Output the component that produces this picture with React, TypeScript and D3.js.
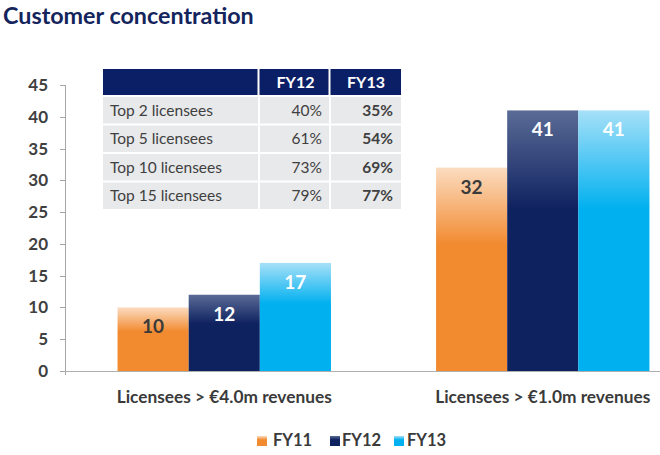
import React from "react";
import * as d3 from "d3";

const categories = ["Licensees > €4.0m revenues", "Licensees > €1.0m revenues"];
const seriesNames = ["FY11", "FY12", "FY13"];
const fy11 = [10, 32];
const fy12 = [12, 41];
const fy13 = [17, 41];
const yTicks = [0, 5, 10, 15, 20, 25, 30, 35, 40, 45];

const tableRows = ["Top 2 licensees", "Top 5 licensees", "Top 10 licensees", "Top 15 licensees"];
const tableHeaders = ["FY12", "FY13"];
const tableFY12 = ["40%", "61%", "73%", "79%"];
const tableFY13 = ["35%", "54%", "69%", "77%"];

const W = 660;
const H = 455;
const FONT = "Lato, 'Open Sans', sans-serif";

const colors = [
  { solid: "#f28a30", light: "#fbdcc0", text: "#3a3a3a" },
  { solid: "#0f2260", light: "#5a6b96", text: "#ffffff" },
  { solid: "#00b0ef", light: "#a6e0f8", text: "#ffffff" },
];

export default function App() {
  const series = [fy11, fy12, fy13];
  const y = d3.scaleLinear().domain([0, 45]).range([371, 85]);
  const x0 = d3
    .scaleBand<string>()
    .domain(categories)
    .range([65, 702])
    .paddingInner(0.33)
    .paddingOuter(0.165);
  const x1 = d3.scaleBand<string>().domain(seriesNames).range([0, x0.bandwidth()]);

  const tX = [103, 260, 331, 401];
  const headerY = 69;
  const headerH = 26;
  const rowY = d3.scaleBand<string>().domain(tableRows).range([97, 209]).paddingInner(0.07);

  const legendSq = [257, 330, 394];
  const legendTx = [273, 342, 407];

  return (
    <svg width={W} height={H} style={{ position: "absolute", left: 0, top: 0 }} fontFamily={FONT}>
      <defs>
        {colors.map((c, i) => (
          <linearGradient key={i} id={`g${i}`} x1="0" y1="0" x2="0" y2="1">
            <stop offset="0%" stopColor={c.light} />
            <stop offset="38%" stopColor={c.solid} />
            <stop offset="100%" stopColor={c.solid} />
          </linearGradient>
        ))}
      </defs>
      <rect width={W} height={H} fill="#fff" />
      <text x={3} y={24} fontSize={23.3} fontWeight={700} fill="#14245c">
        Customer concentration
      </text>

      {/* y axis */}
      <line x1={65.5} x2={65.5} y1={y(45)} y2={375} stroke="#a6a6a6" />
      {yTicks.map((t) => (
        <g key={t}>
          <line x1={60} x2={65} y1={Math.round(y(t)) + 0.5} y2={Math.round(y(t)) + 0.5} stroke="#a6a6a6" />
          <text x={48} y={y(t) + 6} textAnchor="end" fontSize={17} fontWeight={700} fill="#404040">
            {t}
          </text>
        </g>
      ))}

      {/* bars */}
      {categories.map((c, ci) => (
        <g key={c} transform={`translate(${x0(c)},0)`}>
          {seriesNames.map((s, si) => {
            const v = series[si][ci];
            const bx = x1(s) as number;
            return (
              <g key={s}>
                <rect x={bx} y={y(v)} width={x1.bandwidth()} height={y(0) - y(v)} fill={`url(#g${si})`} />
                <text
                  x={bx + x1.bandwidth() / 2}
                  y={y(v) + 26}
                  textAnchor="middle"
                  fontSize={19}
                  fontWeight={700}
                  fill={colors[si].text}
                >
                  {v}
                </text>
              </g>
            );
          })}
          <text x={x0.bandwidth() / 2} y={403} textAnchor="middle" fontSize={17.3} fontWeight={700} fill="#3a3a3a">
            {c}
          </text>
        </g>
      ))}
      <line x1={65} x2={W} y1={371.5} y2={371.5} stroke="#b0b0b0" />

      {/* table */}
      <rect x={tX[0]} y={headerY} width={tX[3] - tX[0]} height={headerH} fill="#0b1f66" />
      <line x1={258.5} x2={258.5} y1={headerY} y2={headerY + headerH} stroke="#fff" strokeWidth={2} />
      <line x1={329.5} x2={329.5} y1={headerY} y2={headerY + headerH} stroke="#fff" strokeWidth={2} />
      {tableHeaders.map((h, i) => (
        <text
          key={h}
          x={(tX[i + 1] + tX[i + 2]) / 2}
          y={headerY + 18.5}
          textAnchor="middle"
          fontSize={16}
          fontWeight={700}
          fill="#fff"
        >
          {h}
        </text>
      ))}
      {tableRows.map((r, i) => {
        const ry = rowY(r) as number;
        const rh = rowY.bandwidth();
        return (
          <g key={r}>
            <rect x={tX[0]} y={ry} width={155} height={rh} fill="#e8e9eb" />
            <rect x={tX[1]} y={ry} width={69} height={rh} fill="#e8e9eb" />
            <rect x={tX[2]} y={ry} width={70} height={rh} fill="#e8e9eb" />
            <text x={110} y={ry + rh / 2 + 5.5} fontSize={15.5} fill="#404040">
              {r}
            </text>
            <text x={322} y={ry + rh / 2 + 5.5} textAnchor="end" fontSize={15.5} fill="#404040">
              {tableFY12[i]}
            </text>
            <text x={393} y={ry + rh / 2 + 5.5} textAnchor="end" fontSize={15.5} fontWeight={700} fill="#404040">
              {tableFY13[i]}
            </text>
          </g>
        );
      })}

      {/* legend */}
      {seriesNames.map((s, i) => (
        <g key={s}>
          <rect x={legendSq[i]} y={436} width={10} height={10} fill={`url(#g${i})`} />
          <text x={legendTx[i]} y={446} fontSize={16.5} fontWeight={700} fill="#3a3a3a">
            {s}
          </text>
        </g>
      ))}
    </svg>
  );
}
